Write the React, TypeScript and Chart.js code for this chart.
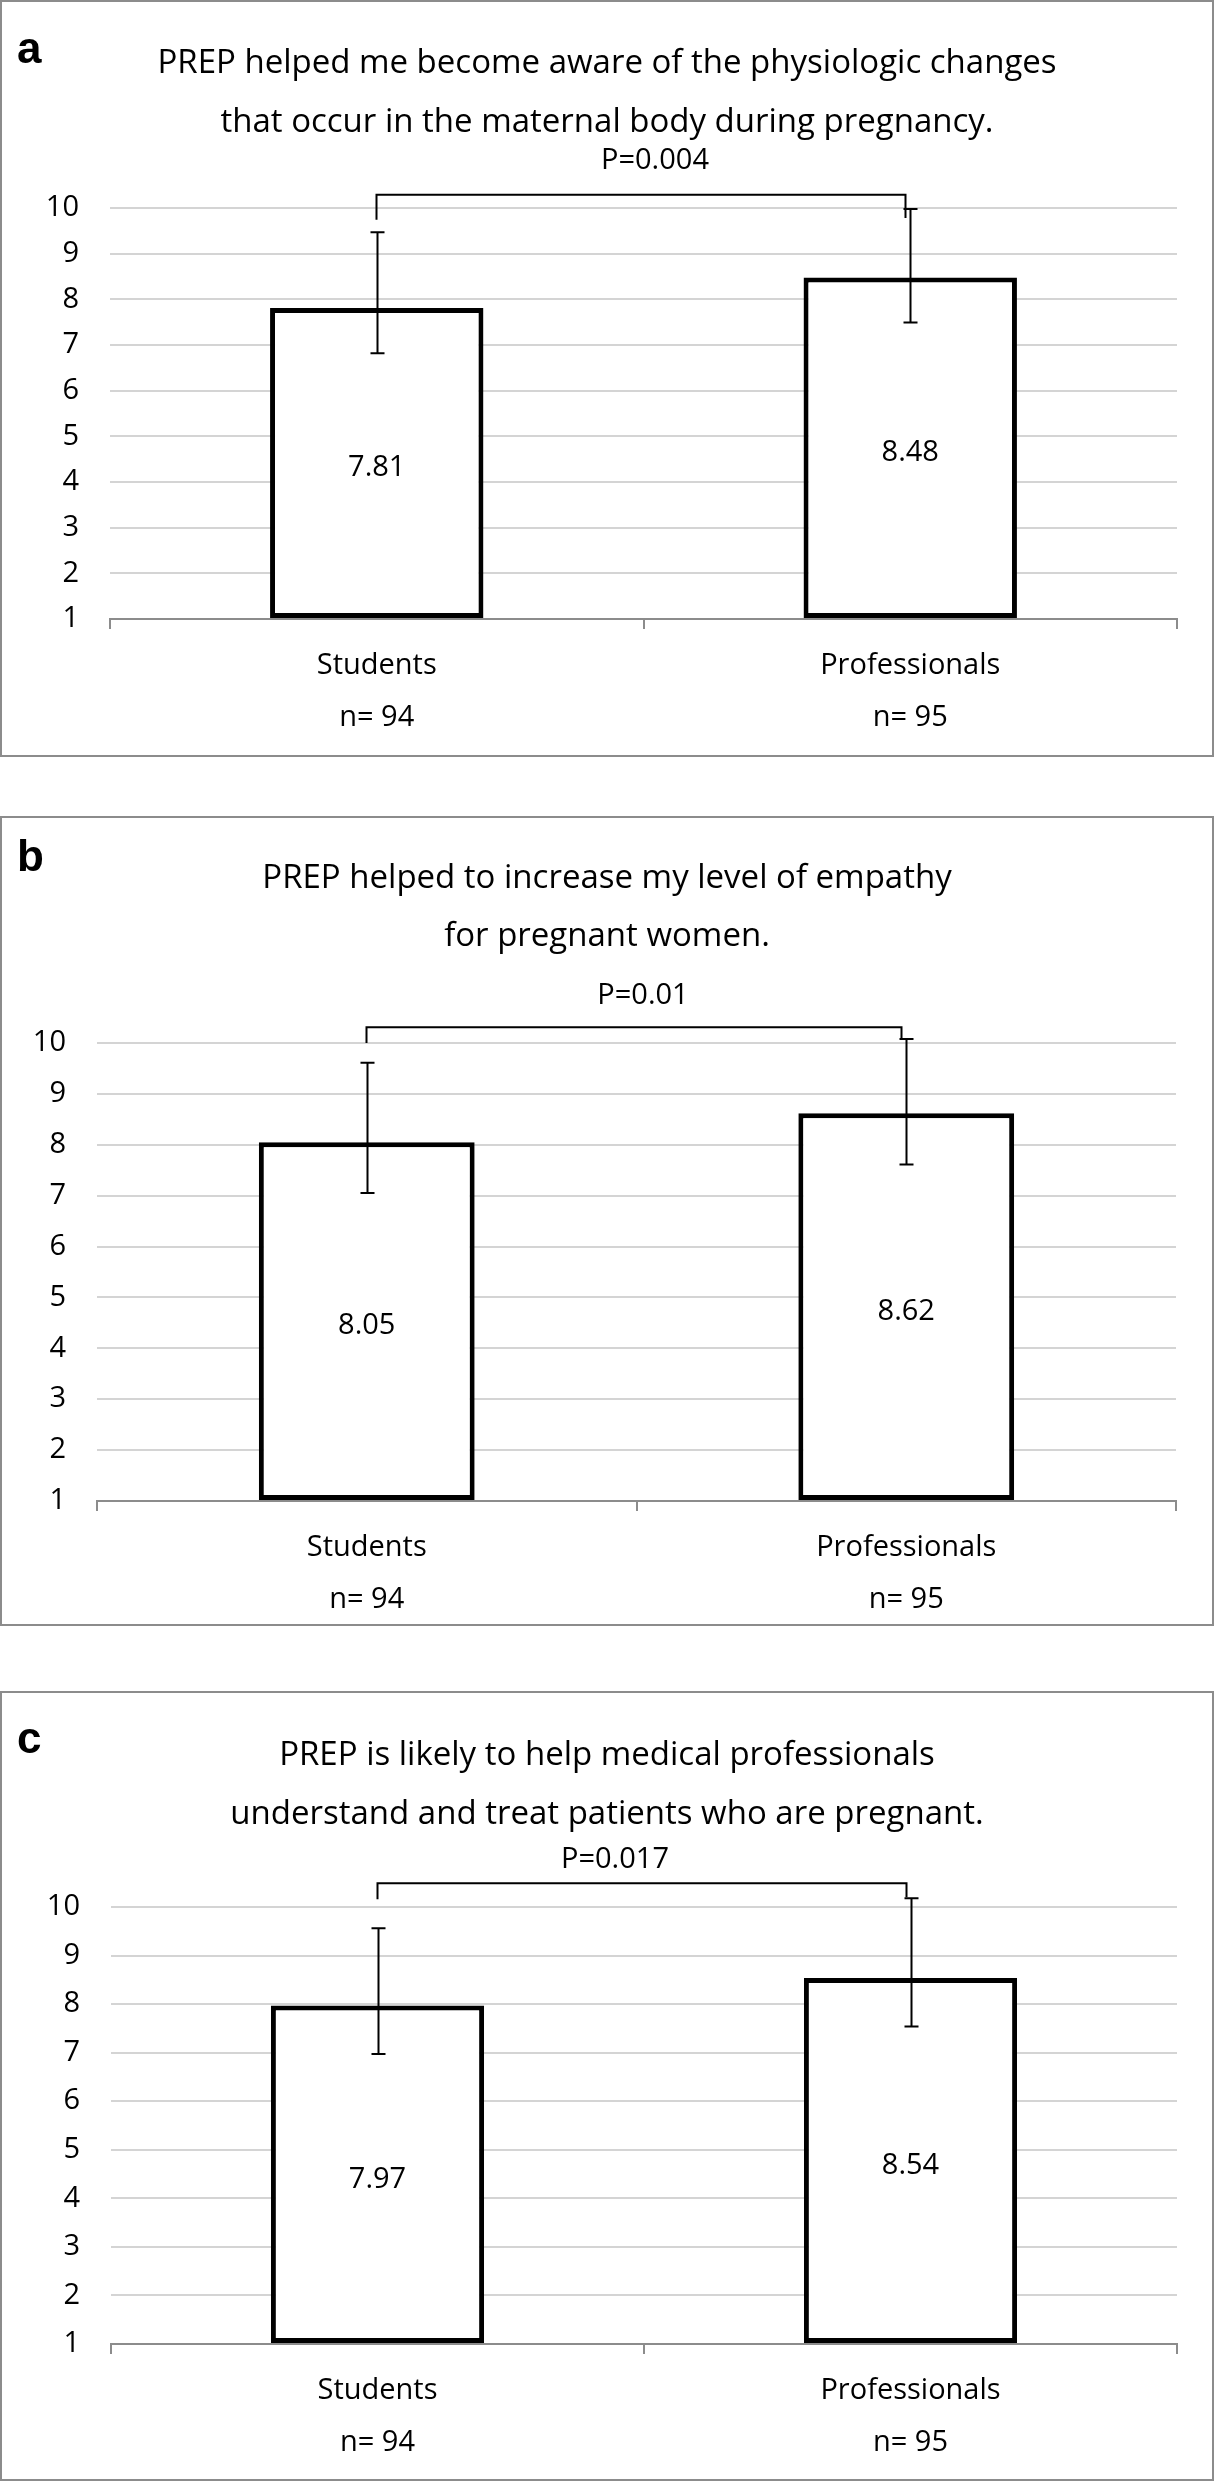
import React, { useEffect, useRef } from "react";
import { Chart, registerables } from "chart.js";

Chart.register(...registerables);

// ---------------- data ----------------
const categories = ["Students", "Professionals"];
const sampleSizes = ["n= 94", "n= 95"];
const panelLetters = ["a", "b", "c"];

const titleA = ["PREP helped me become aware of the physiologic changes", "that occur in the maternal body during pregnancy."];
const titleB = ["PREP helped to increase my level of empathy", "for pregnant women."];
const titleC = ["PREP is likely to help medical professionals", "understand and treat patients who are pregnant."];

const meansA = [7.81, 8.48];
const meansB = [8.05, 8.62];
const meansC = [7.97, 8.54];

// error bar ends (upper / lower)
const errUpperA = [9.47, 9.98];
const errLowerA = [6.82, 7.49];
const errUpperB = [9.61, 10.08];
const errLowerB = [7.05, 7.61];
const errUpperC = [9.56, 10.18];
const errLowerC = [6.97, 7.54];

const pLabels = ["P=0.004", "P=0.01", "P=0.017"];
// significance bracket: level, left end, right end (value units)
const bracketA = [10.29, 9.74, 9.78];
const bracketB = [10.31, 10.0, 10.08];
const bracketC = [10.49, 10.16, 10.2];

const yMin = 1;
const yMax = 10;
const yStep = 1;

// ---------------- layout (positions / styles) ----------------
const FONT = '"Open Sans", "Noto Sans", sans-serif';
const PAGE_W = 1215;

type Layout = {
  top: number;
  height: number;
  left: number;
  right: number;
  chartTop: number;
  chartBottom: number;
  titleBase: number[];
  pBase: number;
  pX: number;
  letterBase: number;
};

const layouts: Layout[] = [
  { top: 0, height: 757, left: 110, right: 1177, chartTop: 208, chartBottom: 619, titleBase: [73, 132], pBase: 169, pX: 655, letterBase: 63 },
  { top: 816, height: 810, left: 97, right: 1176, chartTop: 227, chartBottom: 685, titleBase: [72, 130], pBase: 188, pX: 643, letterBase: 55 },
  { top: 1691, height: 790, left: 111, right: 1177, chartTop: 216, chartBottom: 653, titleBase: [74, 133], pBase: 177, pX: 615, letterBase: 62 },
];

type PanelData = {
  letter: string;
  title: string[];
  means: number[];
  upper: number[];
  lower: number[];
  p: string;
  bracket: number[];
};

const panels: PanelData[] = [
  { letter: panelLetters[0], title: titleA, means: meansA, upper: errUpperA, lower: errLowerA, p: pLabels[0], bracket: bracketA },
  { letter: panelLetters[1], title: titleB, means: meansB, upper: errUpperB, lower: errLowerB, p: pLabels[1], bracket: bracketB },
  { letter: panelLetters[2], title: titleC, means: meansC, upper: errUpperC, lower: errLowerC, p: pLabels[2], bracket: bracketC },
];

function Panel({ data, layout }: { data: PanelData; layout: Layout }) {
  const ref = useRef<HTMLCanvasElement | null>(null);

  useEffect(() => {
    const canvas = ref.current;
    if (!canvas) return;

    const decor = {
      id: "decor",
      beforeDraw(chart: any) {
        const ctx = chart.ctx;
        ctx.save();
        ctx.fillStyle = "#ffffff";
        ctx.fillRect(0, 0, chart.width, chart.height);
        ctx.strokeStyle = "#8c8c8c";
        ctx.lineWidth = 2;
        ctx.strokeRect(1, 1, 1212, layout.height - 2);
        ctx.restore();
      },
      afterDatasetsDraw(chart: any) {
        const ctx = chart.ctx;
        const meta = chart.getDatasetMeta(0);
        const y = chart.scales.y;
        ctx.save();
        // error bars
        ctx.strokeStyle = "#000";
        ctx.lineWidth = 2;
        meta.data.forEach((bar: any, i: number) => {
          const x = Math.round(bar.x) + 0.5;
          const yu = y.getPixelForValue(data.upper[i]);
          const yl = y.getPixelForValue(data.lower[i]);
          ctx.beginPath();
          ctx.moveTo(x, yu);
          ctx.lineTo(x, yl);
          ctx.moveTo(x - 7, yu);
          ctx.lineTo(x + 7, yu);
          ctx.moveTo(x - 7, yl);
          ctx.lineTo(x + 7, yl);
          ctx.stroke();
        });
        // value labels
        ctx.fillStyle = "#000";
        ctx.font = `29px ${FONT}`;
        ctx.textAlign = "center";
        ctx.textBaseline = "middle";
        meta.data.forEach((bar: any, i: number) => {
          ctx.fillText(data.means[i].toFixed(2), bar.x, (bar.y + bar.base) / 2 + 5);
        });
        // bracket
        const xl = Math.round(meta.data[0].x) - 0.5;
        const xr = Math.round(meta.data[1].x) - 4.5;
        const yb = y.getPixelForValue(data.bracket[0]);
        ctx.beginPath();
        ctx.moveTo(xl, y.getPixelForValue(data.bracket[1]));
        ctx.lineTo(xl, yb);
        ctx.lineTo(xr, yb);
        ctx.lineTo(xr, y.getPixelForValue(data.bracket[2]));
        ctx.stroke();
        // p label
        ctx.textBaseline = "alphabetic";
        ctx.font = `29px ${FONT}`;
        ctx.fillText(data.p, layout.pX, layout.pBase);
        // title
        ctx.font = `33px ${FONT}`;
        data.title.forEach((t, i) => ctx.fillText(t, 607, layout.titleBase[i]));
        // panel letter
        ctx.textAlign = "left";
        ctx.font = 'bold 44px "Liberation Sans", Arial, sans-serif';
        ctx.fillText(data.letter, 17, layout.letterBase);
        ctx.restore();
      },
    };

    const chart = new Chart(canvas, {
      type: "bar",
      data: {
        labels: categories.map((c, i) => [c, sampleSizes[i]]),
        datasets: [
          {
            data: data.means,
            backgroundColor: "#ffffff",
            borderColor: "#000000",
            borderWidth: 5,
            borderSkipped: false,
            base: yMin,
            barPercentage: 0.8,
            categoryPercentage: 0.5,
            clip: false,
          } as any,
        ],
      },
      options: {
        responsive: false,
        maintainAspectRatio: false,
        animation: false,
        devicePixelRatio: 1,
        layout: {
          padding: { top: layout.chartTop, left: 0, right: PAGE_W - layout.right, bottom: 0 },
        },
        plugins: { legend: { display: false }, tooltip: { enabled: false }, title: { display: false } },
        scales: {
          x: {
            offset: true,
            grid: { display: true, offset: true, drawOnChartArea: false, drawTicks: true, tickLength: 10, color: "#8c8c8c", lineWidth: 2 },
            border: { display: true, color: "#8c8c8c", width: 2 },
            ticks: { color: "#000", padding: 11, font: { family: FONT, size: 29, lineHeight: 52 / 29 }, maxRotation: 0 },
            afterFit: (s: any) => {
              s.height = layout.height - layout.chartBottom;
            },
          },
          y: {
            min: yMin,
            max: yMax,
            ticks: { stepSize: yStep, color: "#000", padding: 31, font: { family: FONT, size: 29 } },
            grid: { color: "#d4d4d4", lineWidth: 2, drawTicks: false },
            border: { display: false },
            afterFit: (s: any) => {
              s.width = layout.left;
            },
          },
        },
      },
      plugins: [decor],
    } as any);

    return () => chart.destroy();
  }, [data, layout]);

  return (
    <canvas
      ref={ref}
      width={PAGE_W}
      height={layout.height}
      style={{ position: "absolute", left: 0, top: layout.top, width: PAGE_W, height: layout.height, display: "block" }}
    />
  );
}

export default function App() {
  return (
    <div style={{ position: "absolute", left: 0, top: 0, width: PAGE_W, height: 2482, background: "#fff" }}>
      {panels.map((p, i) => (
        <Panel key={i} data={p} layout={layouts[i]} />
      ))}
    </div>
  );
}
